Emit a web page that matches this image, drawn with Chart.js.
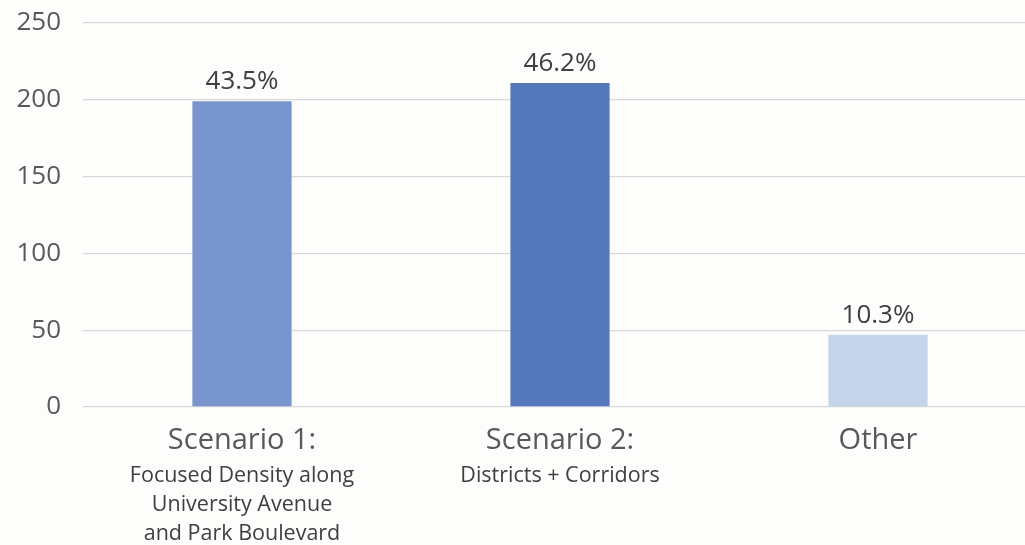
<!DOCTYPE html>
<html>
<head>
<meta charset="utf-8">
<title>Scenario preference</title>
<script src="https://cdn.jsdelivr.net/npm/chart.js@4.4.1/dist/chart.umd.min.js"></script>
<style>
  html, body { margin: 0; padding: 0; background: #fdfdfc; overflow: hidden; }
  /* plot area runs a little past the right edge in the original */
  #wrap { position: relative; width: 1037px; height: 545px; }
</style>
</head>
<body>
<div id="wrap"><canvas id="chart"></canvas></div>
<script>
// data
const categories = ['Scenario 1:', 'Scenario 2:', 'Other'];
const subLabels = [
    ['Focused Density along', 'University Avenue', 'and Park Boulevard'],
    ['Districts + Corridors'],
    ''
];
const votes = [199, 211, 47];
const shareLabels = ['43.5%', '46.2%', '10.3%'];
const yTicks = [0, 50, 100, 150, 200, 250];
const barColors = ['#7896cd', '#5578bc', '#c6d4ea'];

Chart.defaults.font.family = '"Open Sans", sans-serif';

// percentage labels above each bar
const valueLabels = {
    id: 'valueLabels',
    afterDatasetsDraw(chart) {
        const ctx = chart.ctx;
        const meta = chart.getDatasetMeta(0);
        ctx.save();
        ctx.font = '26px "Open Sans", sans-serif';
        ctx.fillStyle = '#404040';
        ctx.textAlign = 'center';
        ctx.textBaseline = 'alphabetic';
        meta.data.forEach((bar, i) => {
            ctx.fillText(shareLabels[i], bar.x, bar.y - 12);
        });
        ctx.restore();
    }
};

new Chart(document.getElementById('chart'), {
    type: 'bar',
    data: {
        labels: categories,
        datasets: [{
            data: votes,
            backgroundColor: barColors,
            borderWidth: 0,
            barPercentage: 0.312,
            categoryPercentage: 1
        }]
    },
    options: {
        responsive: true,
        maintainAspectRatio: false,
        animation: false,
        layout: { padding: { top: 23, left: 0, right: 0, bottom: 0 } },
        plugins: {
            legend: { display: false },
            tooltip: { enabled: false }
        },
        scales: {
            y: {
                min: 0,
                max: 250,
                afterBuildTicks: s => { s.ticks = yTicks.map(v => ({ value: v })); },
                afterFit: s => { s.width = 83; s.paddingTop = 0; s.paddingBottom = 0; },
                grid: { color: '#d9d9d9', lineWidth: 1.3, drawTicks: false },
                border: { display: false },
                ticks: { color: '#595959', padding: 22, font: { size: 26 } }
            },
            x: {
                weight: 0,
                // padding is counted twice in fit(), so pin the height
                afterFit: s => { s.height = 52; },
                grid: { display: false, drawTicks: false },
                border: { display: false },
                ticks: {
                    color: '#595959', padding: 16, maxRotation: 0, autoSkip: false,
                    font: { size: 29 }
                }
            },
            x2: {
                type: 'category',
                position: 'bottom',
                weight: 1,
                offset: true,
                labels: subLabels,
                afterFit: s => { s.height = 86; },
                grid: { display: false, drawTicks: false },
                border: { display: false },
                ticks: {
                    color: '#404040', padding: 2, maxRotation: 0, autoSkip: false,
                    font: { size: 21.5, lineHeight: 1.35 }
                }
            }
        }
    },
    plugins: [valueLabels]
});
</script>
</body>
</html>
